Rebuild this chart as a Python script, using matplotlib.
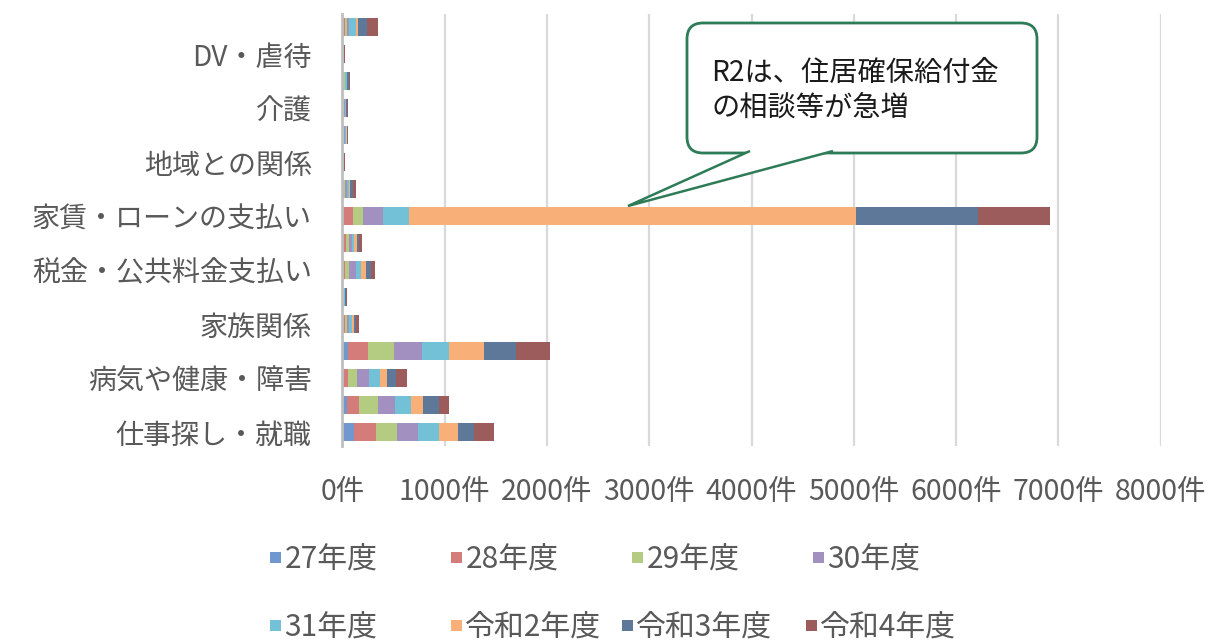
import matplotlib
matplotlib.use("Agg")
import matplotlib.pyplot as plt
from matplotlib.patches import FancyBboxPatch, PathPatch
from matplotlib.path import Path
from matplotlib.transforms import Affine2D
import numpy as np

plt.rcParams['font.family'] = ['Noto Sans CJK JP', 'DejaVu Sans']

# Categories from bottom to top; only every other one is labelled on the chart
categories = ["仕事探し・就職", "仕事上の不安やトラブル", "病気や健康・障害", "収入・生活費",
              "家族関係", "ひきこもり・不登校", "税金・公共料金支払い", "債務",
              "家賃・ローンの支払い", "住まい不安定", "地域との関係", "子育て",
              "介護", "食べるものがない", "DV・虐待", "その他"]
years = ["27年度", "28年度", "29年度", "30年度", "31年度", "令和2年度", "令和3年度", "令和4年度"]

# consultations per year (件), same order as categories
fy27 = [114, 43, 10, 59, 8, 4, 10, 12, 20, 8, 2, 4, 5, 5, 2, 10]
fy28 = [215, 120, 49, 189, 15, 5, 15, 25, 80, 10, 3, 5, 6, 8, 3, 16]
fy29 = [208, 189, 88, 257, 20, 5, 40, 25, 98, 12, 3, 6, 8, 10, 3, 23]
fy30 = [205, 163, 117, 270, 22, 5, 65, 28, 200, 15, 3, 7, 8, 8, 3, 17]
fy31 = [202, 156, 105, 270, 25, 5, 50, 25, 254, 18, 3, 15, 8, 12, 3, 65]
r2 = [189, 120, 65, 342, 20, 5, 50, 28, 4366, 12, 3, 5, 6, 5, 3, 19]
r3 = [153, 157, 88, 307, 25, 6, 50, 22, 1200, 25, 4, 12, 8, 15, 4, 88]
r4 = [199, 97, 114, 335, 28, 8, 40, 30, 704, 30, 5, 5, 10, 12, 5, 107]
series = [fy27, fy28, fy29, fy30, fy31, r2, r3, r4]

colors = ["#7098CE", "#D37C7A", "#B4CC82", "#A290C0",
          "#73C1D6", "#F8B078", "#5E7899", "#9C5C5C"]

W, H = 1210, 642
fig = plt.figure(figsize=(W / 100, H / 100), dpi=100)
ax = fig.add_axes([342.3 / W, 1 - 445.5 / H, (1160.7 - 342.3) / W, (445.5 - 13.5) / H])

y = np.arange(len(categories))
left = np.zeros(len(categories))
bars = []
for vals, col, lab in zip(series, colors, years):
    b = ax.barh(y, vals, left=left, height=0.68, color=col, label=lab, zorder=3)
    bars.append(b)
    left += np.array(vals)

ax.set_xlim(0, 8000)
ax.set_ylim(-0.5, len(categories) - 0.5)
ax.set_xticks(np.arange(0, 8001, 1000))
ax.set_xticklabels([f"{v}件" for v in range(0, 8001, 1000)])
ax.set_yticks(y[::2])
ax.set_yticklabels(categories[::2])
ax.tick_params(axis='x', length=0, pad=23, labelsize=20.5, labelcolor='#595959')
ax.tick_params(axis='y', length=0, pad=22, labelsize=20.2, labelcolor='#595959')
ax.xaxis.grid(True, color='#D9D9D9', lw=1.6, zorder=0)
ax.set_axisbelow(True)
for s in ['top', 'right', 'bottom']:
    ax.spines[s].set_visible(False)
ax.spines['left'].set_color('#BFBFBF')
ax.spines['left'].set_linewidth(2)
ax.spines['left'].set_zorder(4)

# pixel coordinates, origin at the top left of the figure
px = Affine2D().scale(1 / W, -1 / H).translate(0, 1) + fig.transFigure

# legend, one entry at a time to follow the original spacing
leg_x = [270, 451, 632, 813, 270, 451, 622, 806]
leg_y = [560, 560, 560, 560, 628, 628, 628, 628]
for b, lab, lx, ly in zip(bars, years, leg_x, leg_y):
    fx, fy = lx / W, 1 - ly / H
    fig.legend([b], [lab], loc='center left', bbox_to_anchor=(fx, fy),
               frameon=False, borderpad=0, borderaxespad=0,
               handlelength=0.36, handleheight=0.16, handletextpad=0.12,
               fontsize=21.5, labelcolor='#595959')

# callout
green = "#2E7B57"
box = FancyBboxPatch((687, 23), 350, 130, boxstyle="round,pad=0,rounding_size=16",
                     transform=px, facecolor='white', edgecolor=green, lw=2, zorder=10)
fig.add_artist(box)
tail = Path([(750, 151), (628, 206), (833, 151)], [Path.MOVETO, Path.LINETO, Path.LINETO])
fig.add_artist(PathPatch(tail, transform=px, facecolor='white', edgecolor=green,
                         lw=1.8, zorder=11))
fig.text(711 / W, 1 - 73 / H, "R2は、住居確保給付金", fontsize=20.3, color='#1a1a1a',
         va='center', ha='left', zorder=12)
fig.text(711 / W, 1 - 108 / H, "の相談等が急増", fontsize=20.3, color='#1a1a1a',
         va='center', ha='left', zorder=12)

fig.savefig("out.png", dpi=100)
